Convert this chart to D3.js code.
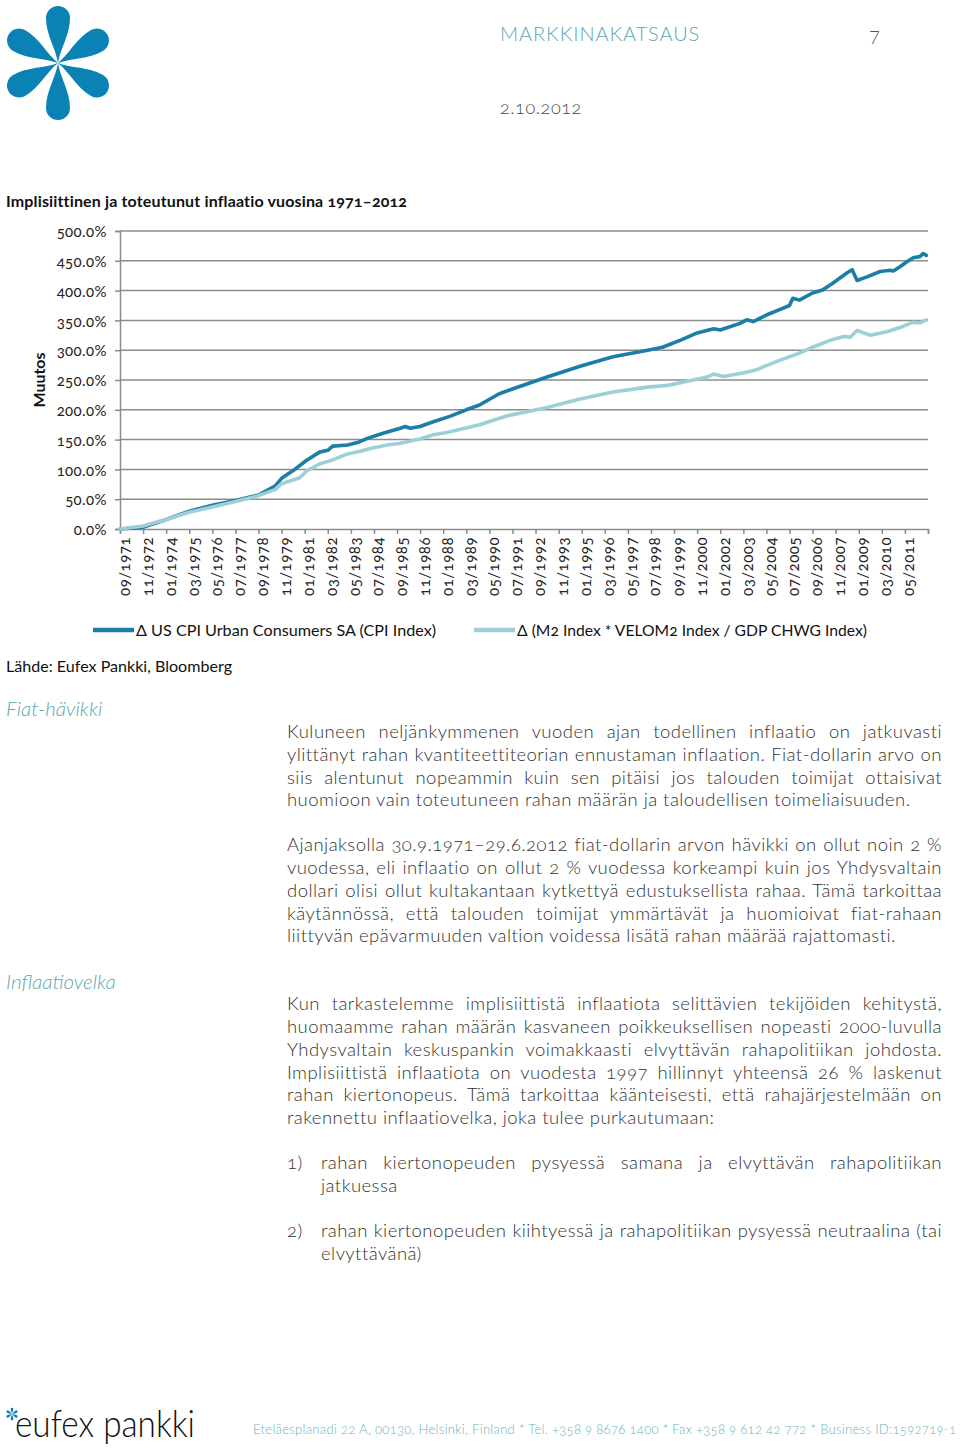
<!DOCTYPE html>
<html><head><meta charset="utf-8">
<script src="https://cdn.jsdelivr.net/npm/d3@7"></script>
<style>
html,body{margin:0;padding:0;background:#fff;}
svg{display:block;}
text{font-family:Lato,"Open Sans",sans-serif;font-variant-numeric:oldstyle-nums;}
</style></head>
<body>
<script>
// ---------------- DATA ----------------
const xLabels = ["09/1971","11/1972","01/1974","03/1975","05/1976","07/1977","09/1978","11/1979","01/1981","03/1982","05/1983","07/1984","09/1985","11/1986","01/1988","03/1989","05/1990","07/1991","09/1992","11/1993","01/1995","03/1996","05/1997","07/1998","09/1999","11/2000","01/2002","03/2003","05/2004","07/2005","09/2006","11/2007","01/2009","03/2010","05/2011"];
const yTicks = [0,50,100,150,200,250,300,350,400,450,500];
const seriesNames = ["\u0394 US CPI Urban Consumers SA (CPI Index)", "\u0394 (M2 Index * VELOM2 Index / GDP CHWG Index)"];

const cpiDates = ["1971-09","1972-11","1974-01","1975-03","1976-05","1977-07","1978-09","1979-07","1979-11","1980-06","1981-02","1981-10","1982-03","1982-06","1983-03","1983-09","1984-03","1985-01","1985-11","1986-02","1986-05","1986-11","1987-07","1988-05","1989-03","1989-11","1990-11","1991-07","1993-04","1994-12","1996-08","1998-05","1999-02","2000-01","2000-11","2001-09","2002-01","2003-01","2003-05","2003-09","2004-05","2005-01","2005-07","2005-09","2006-01","2006-09","2007-03","2007-09","2008-06","2008-09","2008-12","2009-06","2010-02","2010-08","2010-10","2011-02","2011-06","2011-10","2012-02","2012-04","2012-06"];
const cpiValues = [0,3,16,30,40,48,57,72,85,98,115,129,132,139,141,145,152,161,169,172,169,172,180,189,200,208,227,235,255,273,289,300,305,317,329,336,334,345,351,348,359,368,375,387,384,396,401,412,430,435,417,423,432,434,433,440,448,455,457,462,459];

const m2Dates = ["1971-09","1972-11","1974-01","1975-03","1976-05","1977-07","1978-09","1979-07","1979-11","1980-10","1981-02","1981-10","1982-06","1983-03","1983-10","1984-06","1985-03","1985-11","1986-11","1987-07","1988-03","1988-11","1989-11","1991-04","1993-04","1994-12","1996-08","1998-05","1999-05","2000-05","2001-05","2001-09","2002-03","2003-05","2003-11","2004-03","2005-01","2005-12","2006-09","2007-08","2008-04","2008-08","2008-12","2009-08","2010-06","2011-02","2011-10","2012-02","2012-06"];
const m2Values = [0,5,16,28,37,46,56,66,76,86,97,109,116,126,130,136,141,144,151,158,162,167,175,190,204,218,230,238,241,248,255,260,256,263,267,272,283,294,305,317,323,322,333,325,331,338,347,346,351];

// ---------------- LAYOUT ----------------
const W = 960, H = 1450;
const svg = d3.select("body").append("svg").attr("width", W).attr("height", H);

const DARK = "#1a7ea7", LIGHT = "#9dcfd8", GRID = "#8c8c8c", TEAL = "#5aa7b2";

// logo
function petalLogo(g, cx, cy, s, color){
  const gg = g.append("g").attr("transform", `translate(${cx},${cy}) scale(${s})`);
  [0,60,120,180,240,300].forEach(a=>{
    gg.append("path")
      .attr("d","M0,0 C-2,-14 -12,-28 -12,-45 A12,12 0 0 1 12,-45 C12,-28 2,-14 0,0 Z")
      .attr("transform",`rotate(${a})`)
      .attr("fill",color);
  });
}
petalLogo(svg, 58, 63, 1.0, "#0a83b4");

// header
svg.append("text").attr("x",500).attr("y",41).attr("font-size",20).attr("font-weight",300)
  .attr("fill",TEAL).attr("letter-spacing",0.9).text("MARKKINAKATSAUS");
svg.append("text").attr("x",869).attr("y",42).attr("font-size",20).attr("font-weight",300)
  .attr("fill","#555").text("7");
svg.append("text").attr("x",500).attr("y",114).attr("font-size",18).attr("font-weight",300)
  .attr("fill","#444").attr("letter-spacing",0.6).text("2.10.2012");

// chart title
svg.append("text").attr("x",6).attr("y",207).attr("font-size",16).attr("font-weight",700)
  .attr("fill","#111").attr("letter-spacing",0.15).text("Implisiittinen ja toteutunut inflaatio vuosina 1971\u20132012");

// ---------------- CHART ----------------
const x0 = 120, x1 = 928, yTop = 231, yBot = 529;
const monthIndex = s => { const [yy,mm] = s.split("-").map(Number); return (yy-1971)*12 + (mm-9); };
const x = d3.scaleLinear().domain([0,490]).range([x0,x1]);
const y = d3.scaleLinear().domain([0,500]).range([yBot,yTop]);

const chart = svg.append("g");

// grid
chart.append("g").selectAll("line").data(yTicks.filter(d=>d>0)).join("line")
  .attr("x1",x0).attr("x2",x1).attr("y1",d=>y(d)).attr("y2",d=>y(d))
  .attr("stroke",GRID).attr("stroke-width",1.5);

// y axis
const yAxis = chart.append("g").attr("transform",`translate(${x0},0)`)
  .call(d3.axisLeft(y).tickValues(yTicks).tickSize(5).tickPadding(8).tickFormat(d=>d3.format(".1f")(d)+"%"));
yAxis.attr("font-family",null).attr("font-size",null);
yAxis.select(".domain").attr("stroke",GRID).attr("stroke-width",1.5);
yAxis.selectAll(".tick line").attr("stroke",GRID).attr("stroke-width",1.5);
yAxis.selectAll(".tick text").attr("font-size",15).attr("fill","#222").attr("letter-spacing",0.4).attr("dy","0.38em");

// x axis
const xTickVals = d3.range(0,491,14);
const xAxis = chart.append("g").attr("transform",`translate(0,${yBot})`)
  .call(d3.axisBottom(x).tickValues(xTickVals).tickSize(5).tickFormat((d,i)=>xLabels[i]||""));
xAxis.attr("font-family",null).attr("font-size",null);
xAxis.select(".domain").attr("stroke",GRID).attr("stroke-width",1.5);
xAxis.selectAll(".tick line").attr("stroke",GRID).attr("stroke-width",1.5);
xAxis.selectAll(".tick text").attr("font-size",15).attr("fill","#222").attr("letter-spacing",0.5)
  .attr("transform","rotate(-90)").attr("text-anchor","end")
  .attr("x",-8).attr("y",0).attr("dy","0.6em");

// y title
svg.append("text").attr("transform","translate(45,380) rotate(-90)").attr("text-anchor","middle")
  .attr("font-size",16).attr("font-weight",700).attr("fill","#111").text("Muutos");

// lines
const line = d3.line().x(d=>x(monthIndex(d[0]))).y(d=>y(d[1])).curve(d3.curveLinear);
chart.append("path").datum(d3.zip(cpiDates,cpiValues)).attr("d",line)
  .attr("fill","none").attr("stroke",DARK).attr("stroke-width",3.6).attr("stroke-linejoin","round").attr("stroke-linecap","round");
chart.append("path").datum(d3.zip(m2Dates,m2Values)).attr("d",line)
  .attr("fill","none").attr("stroke",LIGHT).attr("stroke-width",3.6).attr("stroke-linejoin","round").attr("stroke-linecap","round");

// legend
const legend = [{x:93,c:DARK,t:seriesNames[0],w:300},{x:474,c:LIGHT,t:seriesNames[1],w:350}];
legend.forEach(l=>{
  svg.append("line").attr("x1",l.x).attr("x2",l.x+41).attr("y1",630).attr("y2",630)
    .attr("stroke",l.c).attr("stroke-width",4.5);
  svg.append("text").attr("x",l.x+43).attr("y",636).attr("font-size",16)
    .attr("font-family","'Open Sans',sans-serif").attr("fill","#111")
    .attr("textLength",l.w).attr("lengthAdjust","spacingAndGlyphs").text(l.t);
});
svg.append("text").attr("x",6).attr("y",672).attr("font-size",16)
  .attr("font-family","'Open Sans',sans-serif").attr("fill","#111")
  .attr("textLength",226).attr("lengthAdjust","spacingAndGlyphs").text("L\u00e4hde: Eufex Pankki, Bloomberg");

// ---------------- BODY TEXT ----------------
svg.append("text").attr("x",6).attr("y",716).attr("font-size",20.5).attr("font-style","italic")
  .attr("font-weight",300).attr("fill",TEAL).text("Fiat-h\u00e4vikki");
svg.append("text").attr("x",6).attr("y",989).attr("font-size",20.5).attr("font-style","italic")
  .attr("font-weight",300).attr("fill",TEAL).text("Inflaatiovelka");

const body = [
  {y:738,x:287,t:"Kuluneen neljänkymmenen vuoden ajan todellinen inflaatio on jatkuvasti",j:true},
  {y:761,x:287,t:"ylittänyt rahan kvantiteettiteorian ennustaman inflaation. Fiat-dollarin arvo on",j:true},
  {y:784,x:287,t:"siis alentunut nopeammin kuin sen pitäisi jos talouden toimijat ottaisivat",j:true},
  {y:806,x:287,t:"huomioon vain toteutuneen rahan määrän ja taloudellisen toimeliaisuuden.",j:false},
  {y:851,x:287,t:"Ajanjaksolla 30.9.1971–29.6.2012 fiat-dollarin arvon hävikki on ollut noin 2 %",j:true},
  {y:874,x:287,t:"vuodessa, eli inflaatio on ollut 2 % vuodessa korkeampi kuin jos Yhdysvaltain",j:true},
  {y:897,x:287,t:"dollari olisi ollut kultakantaan kytkettyä edustuksellista rahaa. Tämä tarkoittaa",j:true},
  {y:920,x:287,t:"käytännössä, että talouden toimijat ymmärtävät ja huomioivat fiat-rahaan",j:true},
  {y:942,x:287,t:"liittyvän epävarmuuden valtion voidessa lisätä rahan määrää rajattomasti.",j:false},
  {y:1010,x:287,t:"Kun tarkastelemme implisiittistä inflaatiota selittävien tekijöiden kehitystä,",j:true},
  {y:1033,x:287,t:"huomaamme rahan määrän kasvaneen poikkeuksellisen nopeasti 2000-luvulla",j:true},
  {y:1056,x:287,t:"Yhdysvaltain keskuspankin voimakkaasti elvyttävän rahapolitiikan johdosta.",j:true},
  {y:1079,x:287,t:"Implisiittistä inflaatiota on vuodesta 1997 hillinnyt yhteensä 26 % laskenut",j:true},
  {y:1101,x:287,t:"rahan kiertonopeus. Tämä tarkoittaa käänteisesti, että rahajärjestelmään on",j:true},
  {y:1124,x:287,t:"rakennettu inflaatiovelka, joka tulee purkautumaan:",j:false},
  {y:1169,x:287,t:"1)",j:false},
  {y:1169,x:321,t:"rahan kiertonopeuden pysyessä samana ja elvyttävän rahapolitiikan",j:true},
  {y:1192,x:321,t:"jatkuessa",j:false},
  {y:1237,x:287,t:"2)",j:false},
  {y:1237,x:321,t:"rahan kiertonopeuden kiihtyessä ja rahapolitiikan pysyessä neutraalina (tai",j:true},
  {y:1260,x:321,t:"elvyttävänä)",j:false}
];
const RIGHT = 942;
body.forEach(b=>{
  const t = svg.append("text").attr("x",b.x).attr("y",b.y).attr("font-size",18.5)
    .attr("font-weight",300).attr("fill","#333").attr("letter-spacing",0.45).text(b.t);
  if(b.j){
    const w = t.node().getComputedTextLength();
    const spaces = (b.t.match(/ /g)||[]).length;
    if(spaces>0) t.attr("word-spacing",((RIGHT-b.x)-w)/spaces);
  }
});

// ---------------- FOOTER ----------------
petalLogo(svg, 12, 1414, 0.11, "#0a83b4");
svg.append("text").attr("x",15).attr("y",1437).attr("font-size",37).attr("font-weight",300)
  .attr("fill","#111").attr("textLength",180).attr("lengthAdjust","spacingAndGlyphs").text("eufex pankki");
svg.append("text").attr("x",253).attr("y",1434).attr("font-size",13).attr("font-weight",300)
  .attr("fill","#6cb2bc").attr("textLength",703).attr("lengthAdjust","spacing")
  .text("Eteläesplanadi 22 A, 00130, Helsinki, Finland * Tel. +358 9 8676 1400 * Fax +358 9 612 42 772 * Business ID:1592719-1");
</script>
</body></html>
